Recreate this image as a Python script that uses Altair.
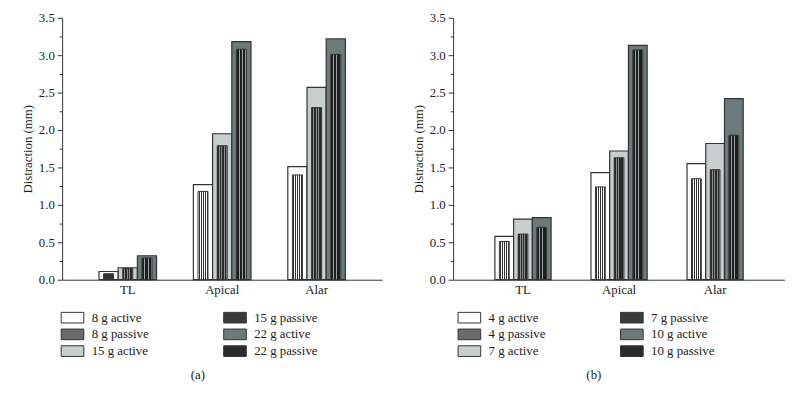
import altair as alt
import pandas as pd

# ---------------- data ----------------
sites = ["TL", "Apical", "Alar"]

loads_a = ["8 g", "15 g", "22 g"]
a_8_active = [0.11, 1.27, 1.51]
a_8_passive = [0.08, 1.18, 1.40]
a_15_active = [0.16, 1.95, 2.57]
a_15_passive = [0.15, 1.79, 2.30]
a_22_active = [0.32, 3.18, 3.22]
a_22_passive = [0.29, 3.08, 3.01]

loads_b = ["4 g", "7 g", "10 g"]
b_4_active = [0.58, 1.43, 1.55]
b_4_passive = [0.51, 1.24, 1.35]
b_7_active = [0.81, 1.72, 1.82]
b_7_passive = [0.61, 1.63, 1.47]
b_10_active = [0.83, 3.13, 2.42]
b_10_passive = [0.70, 3.07, 1.93]

y_ticks = [0, 0.25, 0.5, 0.75, 1.0, 1.25, 1.5, 1.75, 2.0, 2.25, 2.5, 2.75, 3.0, 3.25, 3.5]

# ---------------- styles ----------------
FONT = "Liberation Serif"
STROKE = "#333333"
active_colors = ["#ffffff", "#c6cece", "#6b7a7a"]
passive_swatch = ["#6a6a6a", "#3a3a3a", "#2a2a2a"]
PASSIVE_PAD = 0.48  # narrower, centred passive bars


def stripes(c1, c2, n, frac=0.5):
    stops = []
    for k in range(n):
        a, m, b = k / n, (k + frac) / n, (k + 1) / n
        stops += [{"offset": a, "color": c1}, {"offset": m, "color": c1},
                  {"offset": m, "color": c2}, {"offset": b, "color": c2}]
    return alt.LinearGradient(gradient="linear", stops=stops, x1=0, x2=1, y1=0, y2=0)


passive_fills = [
    stripes("#ffffff", "#333333", 5, 0.45),
    stripes("#2a2a2a", "#8c8c8c", 4, 0.6),
    stripes("#1e1e1e", "#9aa4a4", 3, 0.7),
]


def build_df(loads, actives, passives):
    rows = []
    for li, load in enumerate(loads):
        for si, site in enumerate(sites):
            rows.append({"site": site, "load": load, "kind": "active",
                         "series": f"{load} active", "value": actives[li][si]})
            rows.append({"site": site, "load": load, "kind": "passive",
                         "series": f"{load} passive", "value": passives[li][si]})
    return pd.DataFrame(rows)


def panel(loads, actives, passives, width, caption, legend_x, caption_dx, pad_in, pad_out):
    df = build_df(loads, actives, passives)
    legend_domain, legend_range = [], []
    for li, load in enumerate(loads):
        legend_domain += [f"{load} active", f"{load} passive"]
        legend_range += [active_colors[li], passive_swatch[li]]

    x_enc = alt.X("site:N", sort=sites,
                  scale=alt.Scale(domain=sites, paddingInner=pad_in, paddingOuter=pad_out),
                  axis=alt.Axis(title=None, ticks=False, labelAngle=0, labelPadding=4,
                                domainColor=STROKE))
    xo_active = alt.XOffset("load:N", sort=loads,
                            scale=alt.Scale(domain=loads, paddingInner=0, paddingOuter=0))
    xo_passive = alt.XOffset("load:N", sort=loads,
                             scale=alt.Scale(domain=loads, paddingInner=PASSIVE_PAD,
                                             paddingOuter=PASSIVE_PAD / 2))
    y_enc = alt.Y("value:Q",
                  scale=alt.Scale(domain=[0, 3.5], nice=False),
                  axis=alt.Axis(title="Distraction (mm)", values=y_ticks, grid=False,
                                labelExpr="datum.value % 0.5 ? '' : format(datum.value, '.1f')",
                                tickSize={"condition": {"test": "datum.value % 0.5 != 0", "value": 3},
                                          "value": 5},
                                labelPadding=3, titlePadding=4, labelOverlap=False))

    active = alt.Chart(df).transform_filter(alt.datum.kind == "active").mark_bar(
        stroke=STROKE, strokeWidth=1.2
    ).encode(
        x=x_enc, xOffset=xo_active, y=y_enc,
        fill=alt.Fill("series:N",
                      scale=alt.Scale(domain=legend_domain, range=legend_range),
                      legend=alt.Legend(title=None, orient="none", columns=2,
                                        legendX=legend_x, legendY=298, padding=0,
                                        symbolType="M-2,-0.94H2V0.94H-2Z",
                                        symbolSize=132, symbolStrokeColor=STROKE,
                                        symbolStrokeWidth=1, rowPadding=2,
                                        columnPadding=74, labelOffset=13,
                                        labelFont=FONT, labelFontSize=13,
                                        labelColor="#222222")),
    )
    layers = [active]
    for li, load in enumerate(loads):
        layers.append(
            alt.Chart(df).transform_filter(
                (alt.datum.kind == "passive") & (alt.datum.load == load)
            ).mark_bar(fill=passive_fills[li], stroke=STROKE, strokeWidth=1)
            .encode(x=x_enc, xOffset=xo_passive, y=y_enc)
        )
    return alt.layer(*layers).resolve_scale(xOffset="independent").properties(
        width=width, height=266,
        title=alt.TitleParams(caption, orient="bottom", anchor="middle", frame="bounds",
                              font=FONT, fontSize=13, fontWeight="normal",
                              color="#222222", offset=11, dx=caption_dx),
    )


left = panel(loads_a, [a_8_active, a_15_active, a_22_active],
             [a_8_passive, a_15_passive, a_22_passive], 325, "(a)", 4, -4, 0.39, 0.39)
right = panel(loads_b, [b_4_active, b_7_active, b_10_active],
              [b_4_passive, b_7_passive, b_10_passive], 337, "(b)", 10, -5, 0.415, 0.435)

chart = alt.hconcat(left, right, spacing=30).resolve_scale(
    fill="independent", xOffset="independent", x="independent", y="independent"
).properties(
    padding={"left": 13, "top": 1, "right": 0, "bottom": 0},
    background="white",
).configure_view(stroke=None).configure_axis(
    labelFont=FONT, titleFont=FONT, labelFontSize=13, titleFontSize=13,
    labelColor="#222222", titleColor="#222222", titleFontWeight="normal",
    domainColor=STROKE, tickColor=STROKE, domainWidth=1, tickWidth=1,
)

chart.save("out.html", embed_options={"renderer": "svg", "actions": False})
